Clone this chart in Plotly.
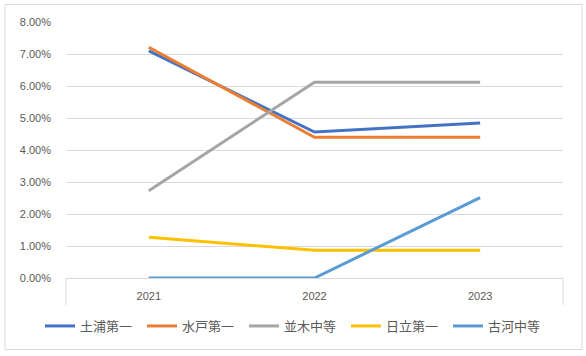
import plotly.graph_objects as go

years = ["2021", "2022", "2023"]
series_names = ["土浦第一", "水戸第一", "並木中等", "日立第一", "古河中等"]
tsuchiura = [0.0710, 0.0456, 0.0484]
mito = [0.0721, 0.0440, 0.0440]
namiki = [0.0273, 0.0612, 0.0612]
hitachi = [0.0127, 0.0087, 0.0087]
koga = [0.0, 0.0, 0.0251]
colors = ["#4472C4", "#ED7D31", "#A5A5A5", "#FFC000", "#5B9BD5"]
y_ticks = [0, 0.01, 0.02, 0.03, 0.04, 0.05, 0.06, 0.07, 0.08]

W, H = 586, 356
L, R, T, B = 66, 23, 22, 78

fig = go.Figure()
for name, vals, col in zip(series_names, [tsuchiura, mito, namiki, hitachi, koga], colors):
    fig.add_trace(go.Scatter(x=years, y=vals, name=name, mode="lines",
                             line=dict(color=col, width=3)))

pw = W - L - R
ph = H - T - B
def px(x):
    return (x - L) / pw
def py(y):
    return (H - B - y) / ph

shapes = [
    # outer border
    dict(type="rect", xref="paper", yref="paper", x0=px(5), x1=px(582), y0=py(349.5), y1=py(4.5),
         line=dict(color="#D9D9D9", width=1), fillcolor="rgba(0,0,0,0)", layer="below"),
    # category axis end ticks
    dict(type="line", xref="paper", yref="paper", x0=0, x1=0, y0=0, y1=py(305),
         line=dict(color="#D9D9D9", width=1)),
    dict(type="line", xref="paper", yref="paper", x0=1, x1=1, y0=0, y1=py(305),
         line=dict(color="#D9D9D9", width=1)),
]

fig.update_layout(
    width=W, height=H,
    margin=dict(l=L, r=R, t=T, b=B, autoexpand=False),
    paper_bgcolor="white", plot_bgcolor="white",
    font=dict(family="Liberation Sans, Arial, sans-serif", size=11, color="#595959"),
    xaxis=dict(type="category", range=[-0.5, 2.5], showgrid=False, zeroline=False, showline=True,
               linecolor="#D9D9D9", linewidth=1, ticks="", fixedrange=True, ticklabelstandoff=8,
               tickfont=dict(size=11, color="#595959")),
    yaxis=dict(range=[0, 0.08], tickvals=y_ticks, tickformat=".2%", showgrid=True,
               gridcolor="#D9D9D9", gridwidth=1, zeroline=False, showline=False,
               ticks="", ticklabelstandoff=14, tickfont=dict(size=11, color="#595959")),
    legend=dict(orientation="h", x=px(40), xanchor="left", y=py(326), yanchor="middle",
                font=dict(family="Noto Sans CJK JP", size=13, color="#595959"),
                itemwidth=30, entrywidth=57, entrywidthmode="pixels",
                tracegroupgap=0, bgcolor="rgba(0,0,0,0)"),
    shapes=shapes,
    showlegend=True,
)

fig.write_html("out.html", config={"displayModeBar": False},
               post_script="document.body.style.margin='0';document.body.style.overflow='hidden';")
